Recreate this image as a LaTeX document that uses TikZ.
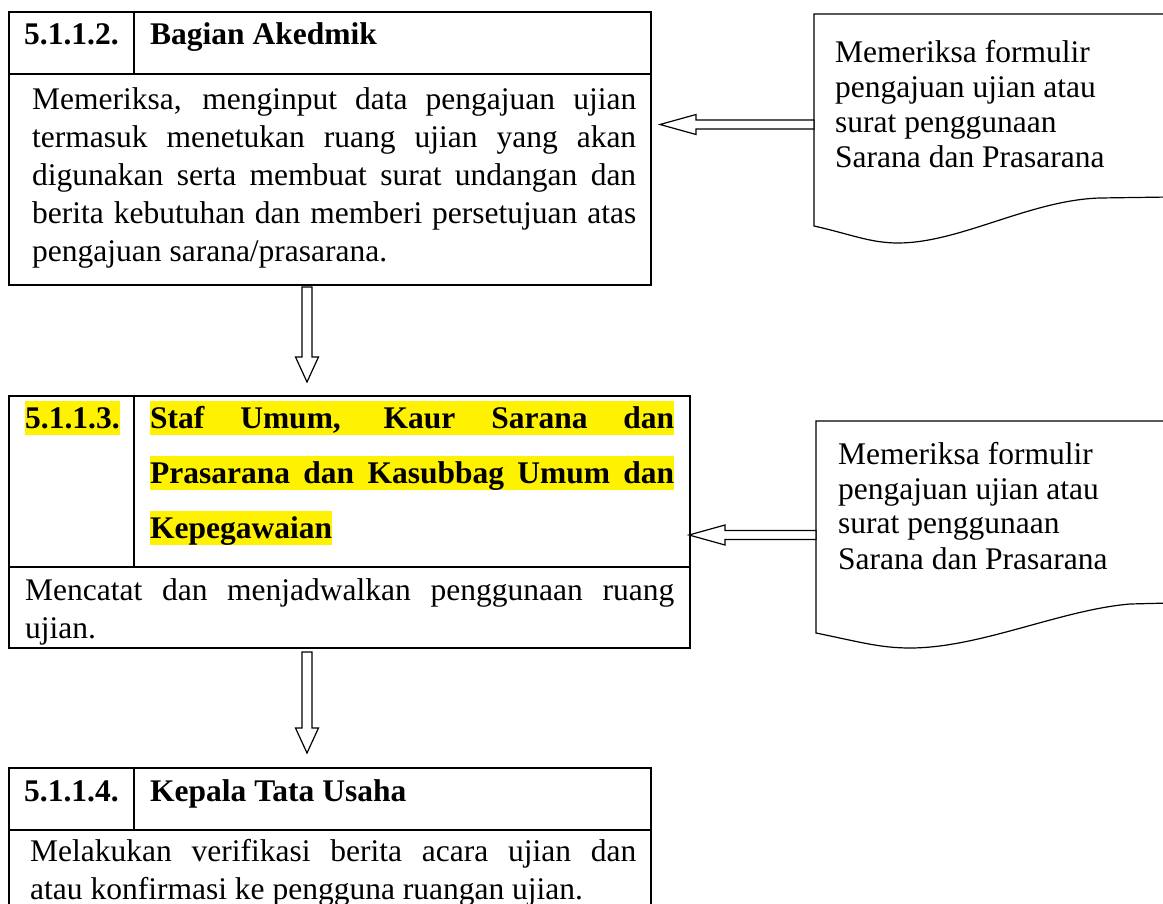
\documentclass[tikz,border=0pt]{standalone}
\usepackage{fontspec}
\setmainfont{Liberation Serif}
\usetikzlibrary{calc,positioning}
\tikzstyle{frame}=[draw=black, line width=2pt]
\tikzstyle{paper}=[draw=black, line width=1.2pt]
\tikzstyle{hollow}=[draw=black, line width=1.2pt, fill=white, line join=miter]
\tikzstyle{num}=[anchor=base west, inner sep=0pt, font=\fontsize{31.5}{38}\selectfont\bfseries]
\tikzstyle{hl}=[num, fill=yellow, text height=27pt, text depth=7pt]
\tikzstyle{txt}=[anchor=base west, inner sep=0pt, font=\fontsize{31.5}{38}\selectfont]
\tikzstyle{doctxt}=[anchor=base west, inner sep=0pt, font=\fontsize{31.5}{35}\selectfont]
% hollow block arrows: #1 tail, #2 tip
\newcommand{\downblock}[2]{\draw[hollow] ($(#1)+(-5,0)$) -- ($(#2)+(-5,-25)$) -- ($(#2)+(-11.5,-25)$) -- (#2) -- ($(#2)+(11.5,-25)$) -- ($(#2)+(5,-25)$) -- ($(#1)+(5,0)$) -- cycle;}
\newcommand{\leftblock}[2]{\draw[hollow] ($(#1)+(0,-4.5)$) -- ($(#2)+(36,-4.5)$) -- ($(#2)+(36,-10)$) -- (#2) -- ($(#2)+(36,10)$) -- ($(#2)+(36,4.5)$) -- ($(#1)+(0,4.5)$) -- cycle;}
\newcommand{\bodytext}[2]{\parbox[t]{#1}{\hyphenpenalty=10000\exhyphenpenalty=10000 #2}}
\newcommand{\formtext}{\parbox[t]{320pt}{\raggedright Memeriksa formulir\\pengajuan ujian atau\\surat penggunaan\\Sarana dan Prasarana}}
\begin{document}
\begin{tikzpicture}[x=1pt, y=-1pt]
\useasboundingbox (0,0) rectangle (1163,904);
\clip (0,0) rectangle (1163,904);
% box 5.1.1.2
\draw[frame] (9,12) rectangle (651,285);
\draw[frame] (9,74) -- (651,74);
\draw[frame] (134,12) -- (134,74);
\node[num] (n1) at (24,45) {5.1.1.2.};
\node[num] (t1) at (150,45) {Bagian Akedmik};
\node[txt] (d1) at (32,110) {\bodytext{604pt}{Memeriksa, menginput data pengajuan ujian\linebreak termasuk menetukan ruang ujian yang akan\linebreak digunakan serta membuat surat undangan dan\linebreak berita kebutuhan dan memberi persetujuan atas\linebreak pengajuan sarana/prasarana.}};
% box 5.1.1.3
\draw[frame] (9,396) rectangle (690,648);
\draw[frame] (9,567) -- (690,567);
\draw[frame] (134,396) -- (134,567);
\node[hl] (n2) at (25,428) {5.1.1.3.};
\node[hl] (t2a) at (150,428) {\makebox[524pt][s]{Staf Umum, Kaur Sarana dan}};
\node[hl] (t2b) at (150,483) {\makebox[524pt][s]{Prasarana dan Kasubbag Umum dan}};
\node[hl] (t2c) at (150,538) {Kepegawaian};
\node[txt] (d2) at (25,600) {\bodytext{649pt}{Mencatat dan menjadwalkan penggunaan ruang\linebreak ujian.}};
% box 5.1.1.4
\draw[frame] (9,768) rectangle (651,920);
\draw[frame] (9,830) -- (651,830);
\draw[frame] (134,768) -- (134,830);
\node[num] (n3) at (24,801) {5.1.1.4.};
\node[num] (t3) at (150,801) {Kepala Tata Usaha};
\node[txt] (d3) at (30,861) {\bodytext{606pt}{Melakukan verifikasi berita acara ujian dan\linebreak atau konfirmasi ke pengguna ruangan ujian.}};
% documents
\draw[paper] (1170,14) -- (814,14) -- (814,226) .. controls (850,234) and (870,243) .. (898,243) .. controls (960,243) and (1030,200) .. (1100,198) -- (1170,197);
\node[doctxt] (f1) at (835,63) {\formtext};
\draw[paper] (1170,421) -- (816,421) -- (816,633) .. controls (860,642) and (880,648) .. (910,648) .. controls (980,648) and (1060,610) .. (1130,604) -- (1170,603);
\node[doctxt] (f2) at (838,464) {\formtext};
% arrows
\coordinate (a1tail) at (307,287);
\coordinate (a1tip) at (307,382);
\coordinate (a2tail) at (307,652);
\coordinate (a2tip) at (307,753);
\coordinate (a3tail) at (814,124.5);
\coordinate (a3tip) at (660,124.5);
\coordinate (a4tail) at (816,535);
\coordinate (a4tip) at (689,535);
\downblock{a1tail}{a1tip}
\downblock{a2tail}{a2tip}
\leftblock{a3tail}{a3tip}
\leftblock{a4tail}{a4tip}
\end{tikzpicture}
\end{document}
